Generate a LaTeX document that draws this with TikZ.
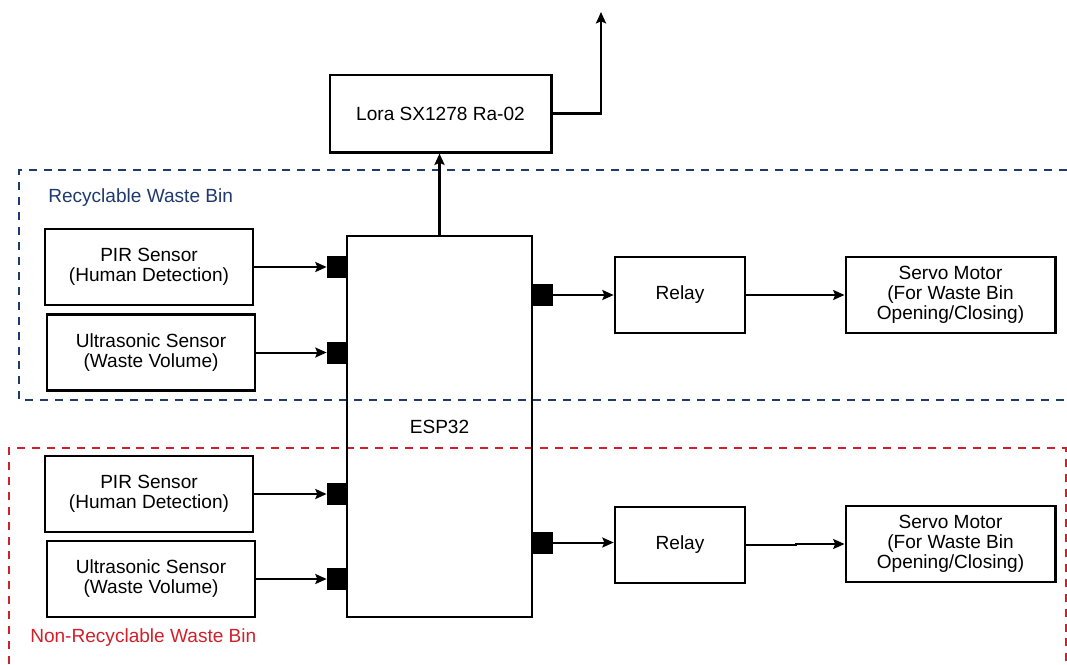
\documentclass[tikz,border=0pt]{standalone}
\usepackage{fontspec}
\setmainfont{Liberation Sans}
\usepackage{tikz}
\usetikzlibrary{arrows.meta,positioning,calc}
\usepackage{xcolor}
\definecolor{binnavy}{HTML}{1F3A6E}
\definecolor{binred}{HTML}{D0202A}

\begin{document}
\begin{tikzpicture}[
    x=0.75pt, y=-0.75pt,
    >={Stealth[length=8.5pt,width=7.5pt,inset=1.5pt]},
    box/.style={draw, line width=2pt, minimum width=156pt, minimum height=57pt, align=center, inner sep=0pt},
    port/.style={draw, fill=black, minimum width=14pt, minimum height=15.5pt, inner sep=0pt},
    arrow/.style={->, line width=1.5pt},
    bigarrow/.style={->, line width=2.2pt},
    binframe/.style={line width=2pt, dash pattern=on 6pt off 5.2pt},
    binlabel/.style={anchor=west, inner sep=0pt},
    every node/.style={font=\fontsize{14.3}{15}\selectfont}
]
\useasboundingbox (0,0) rectangle (1067,664);

% ---- Bin frames ----
\draw[binframe, binnavy] (1067,170) -- (19,170) -- (19,400) -- (1067,400);
\draw[binframe, binred] (9,664) -- (9,448) -- (1066,448) -- (1066,664);
\node[binlabel, text=binnavy] (reclabel) at (48,198) {Recyclable Waste Bin};
\node[binlabel, text=binred] (nonreclabel) at (30,638) {Non-Recyclable Waste Bin};

% ---- Controller and radio ----
\node[box, line width=1.5pt, minimum width=139pt, minimum height=286pt] (esp) at (439.5,426.5) {ESP32};
\node[box, minimum width=166pt, minimum height=58pt] (lora) at (440.5,113.5) {Lora SX1278 Ra-02};
\coordinate (antenna) at (601,12);

% ---- Sensors ----
\node[box] (pirA) at (149,267) {PIR Sensor\\(Human Detection)};
\node[box] (usA) at (151,352.5) {Ultrasonic Sensor\\(Waste Volume)};
\node[box] (pirB) at (149,494) {PIR Sensor\\(Human Detection)};
\node[box] (usB) at (151,579) {Ultrasonic Sensor\\(Waste Volume)};

% ---- Actuators ----
\node[box, minimum width=97.5pt] (relayA) at (680,295) {Relay};
\node[box, minimum width=157pt] (servoA) at (950.5,295) {Servo Motor\\(For Waste Bin\\Opening/Closing)};
\node[box, minimum width=97.5pt] (relayB) at (680,545) {Relay};
\node[box, minimum width=157pt] (servoB) at (950.5,544) {Servo Motor\\(For Waste Bin\\Opening/Closing)};

% ---- Ports on the ESP32 ----
\node[port, anchor=east] (inA) at (esp.west |- pirA) {};
\node[port, anchor=east] (inB) at (esp.west |- usA) {};
\node[port, anchor=east] (inC) at (esp.west |- pirB) {};
\node[port, anchor=east] (inD) at (esp.west |- usB) {};
\node[port, anchor=west] (outA) at (esp.east |- relayA) {};
\node[port, anchor=west] (outB) at (esp.east |- 0,542.5) {};

% ---- Sensor arrows ----
\draw[arrow] (pirA.east) -- (inA.west);
\draw[arrow] (usA.east) -- (inB.west);
\draw[arrow] (pirB.east) -- (inC.west);
\draw[arrow] (usB.east) -- (inD.west);

% ---- Actuator arrows ----
\draw[arrow] (outA.east) -- (relayA.west);
\draw[arrow] (relayA.east) -- (servoA.west);
\draw[arrow] (outB.east) -- (relayB.west |- outB);
\draw[arrow] (relayB.east) -- ++(50,0) |- (servoB.west);

% ---- Radio arrows ----
\draw[bigarrow] (esp.north) -- (esp.north |- lora.south);
\draw[bigarrow] (lora.east) -| (antenna);

\end{tikzpicture}
\end{document}
